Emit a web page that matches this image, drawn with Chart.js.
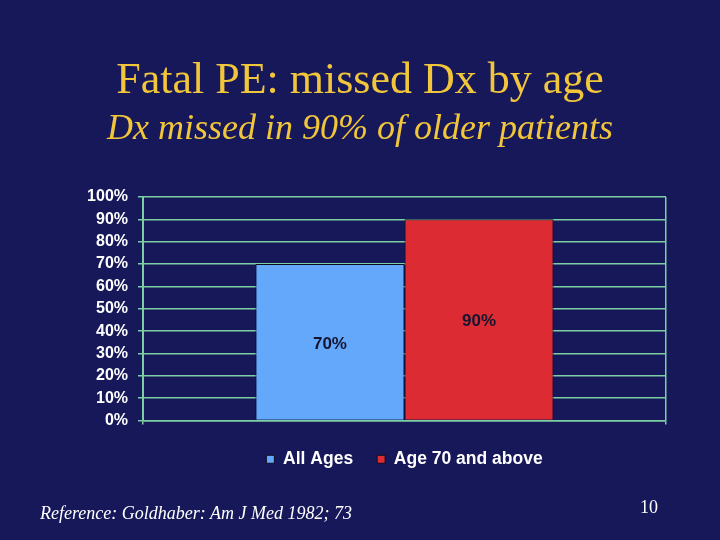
<!DOCTYPE html>
<html>
<head>
<meta charset="utf-8">
<script src="https://cdn.jsdelivr.net/npm/chart.js@4"></script>
<style>
  html, body { margin:0; padding:0; background:#16185a; }
  #wrap { position:relative; width:720px; height:540px; background:#16185a; overflow:hidden; }
  canvas { position:absolute; left:0; top:0; }
  .t { position:absolute; white-space:nowrap; font-family:"Liberation Serif","Times New Roman",serif; color:#f2c63a; }
  #title { left:0; width:720px; text-align:center; top:53px; font-size:44px; }
  #sub { left:0; width:720px; text-align:center; top:106px; font-size:36px; font-style:italic; }
  #ref { left:40px; top:503px; font-size:18px; font-style:italic; color:#ffffff; }
  #pg { left:640px; top:497px; font-size:18px; color:#ffffff; }
</style>
</head>
<body>
<div id="wrap">
  <canvas id="c" width="720" height="540"></canvas>
  <div class="t" id="title">Fatal PE: missed Dx by age</div>
  <div class="t" id="sub">Dx missed in 90% of older patients</div>
  <div class="t" id="ref">Reference: Goldhaber: Am J Med 1982; 73</div>
  <div class="t" id="pg">10</div>
</div>
<script>
const categories = [""];
const seriesNames = ["All Ages", "Age 70 and above"];
const allAges = [70];
const age70Above = [90];
const tickValues = [0, 10, 20, 30, 40, 50, 60, 70, 80, 90, 100];

const barLabels = {
  id: 'barLabels',
  afterDatasetsDraw(chart) {
    const ctx = chart.ctx;
    ctx.save();
    ctx.font = 'bold 17px "Liberation Sans", Arial, sans-serif';
    ctx.fillStyle = '#151530';
    ctx.textAlign = 'center';
    ctx.textBaseline = 'middle';
    chart.data.datasets.forEach((ds, i) => {
      chart.getDatasetMeta(i).data.forEach((bar, j) => {
        const mid = (bar.y + bar.base) / 2;
        ctx.fillText(ds.data[j] + '%', bar.x, mid + 2);
      });
    });
    ctx.restore();
  }
};

new Chart(document.getElementById('c'), {
  type: 'bar',
  data: {
    labels: categories,
    datasets: [
      { label: seriesNames[0], data: allAges, backgroundColor: '#64a8fc', borderColor: '#0c0c20', borderWidth: 1 },
      { label: seriesNames[1], data: age70Above, backgroundColor: '#dc2b33', borderColor: '#0c0c20', borderWidth: 1 }
    ]
  },
  options: {
    responsive: false,
    animation: false,
    devicePixelRatio: 1,
    layout: { padding: { top: 197, left: 80, right: 54, bottom: 62 } },
    datasets: { bar: { barPercentage: 1, categoryPercentage: 0.57 } },
    plugins: {
      legend: {
        position: 'bottom',
        fullSize: false,
        labels: {
          color: '#ffffff',
          font: { family: '"Liberation Sans", Arial, sans-serif', size: 17.5, weight: 'bold' },
          boxWidth: 8, boxHeight: 8, padding: 24
        }
      },
      tooltip: { enabled: false }
    },
    scales: {
      x: {
        offset: true,
        grid: { color: '#7ccfa2', tickLength: 4, offset: true, lineWidth: 1.5 },
        border: { color: '#7ccfa2', width: 1.5 },
        ticks: { display: false },
        afterFit(s) { s.height = 6; }
      },
      y: {
        min: 0, max: 100,
        afterBuildTicks(s) { s.ticks = tickValues.map(v => ({ value: v })); },
        grid: { color: '#7ccfa2', tickLength: 5, lineWidth: 1.5 },
        border: { color: '#7ccfa2', width: 2 },
        ticks: {
          color: '#ffffff', padding: 10, autoSkip: false,
          font: { family: '"Liberation Sans", Arial, sans-serif', size: 16, weight: 'bold' },
          callback: v => v + '%'
        },
        afterFit(s) { s.width = 63; }
      }
    }
  },
  plugins: [barLabels]
});
</script>
</body>
</html>
